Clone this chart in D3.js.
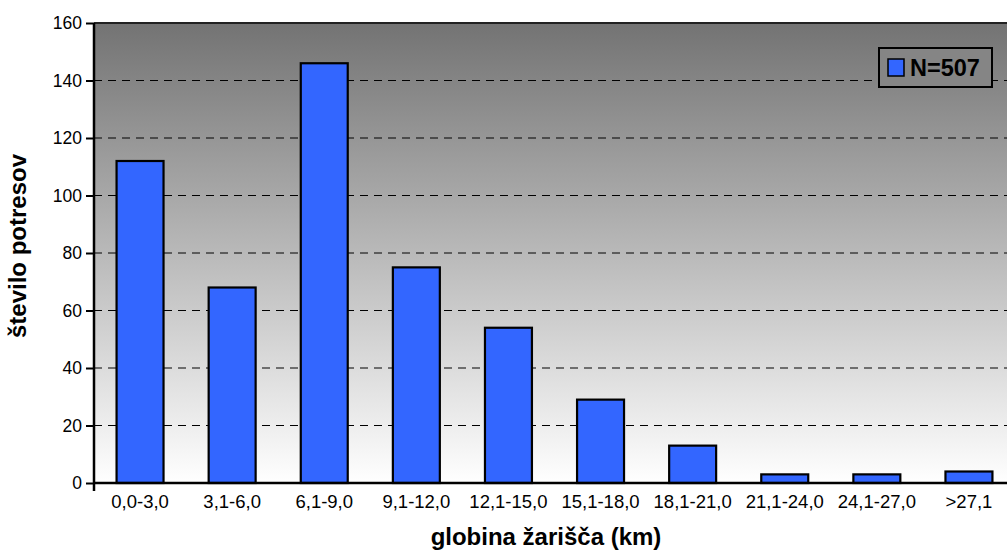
<!DOCTYPE html>
<html lang='sl'>
<head>
    <meta charset='UTF-8'>
    <title>globina žarišča</title>
    <style>
        body { margin: 0; background: #fff; }
        svg { display: block; font-family: Arial, 'Liberation Sans', sans-serif; }
    </style>
</head>
<body>
    <div id='anchor'></div>
    <script src='https://cdnjs.cloudflare.com/ajax/libs/d3/7.8.5/d3.min.js'></script>
    <script>
        const categories = ['0,0-3,0', '3,1-6,0', '6,1-9,0', '9,1-12,0', '12,1-15,0',
            '15,1-18,0', '18,1-21,0', '21,1-24,0', '24,1-27,0', '>27,1'];
        const counts = [112, 68, 146, 75, 54, 29, 13, 3, 3, 4];
        const yTicks = [0, 20, 40, 60, 80, 100, 120, 140, 160];
        const legendLabel = 'N=507';

        const width = 1007, height = 555;
        const margin = { top: 23, left: 94, bottom: 72 };
        const plotRight = 1015;

        const svg = d3.select('#anchor').append('svg')
            .attr('width', width)
            .attr('height', height);

        const x = d3.scaleBand()
            .domain(categories)
            .range([margin.left, plotRight])
            .paddingInner(0.49)
            .paddingOuter(0.245);

        const y = d3.scaleLinear()
            .domain([0, 160])
            .range([height - margin.bottom, margin.top]);

        // background gradient, in page units so the legend box can share it
        const grad = svg.append('defs').append('linearGradient')
            .attr('id', 'bg')
            .attr('gradientUnits', 'userSpaceOnUse')
            .attr('x1', 0).attr('y1', y(160)).attr('x2', 0).attr('y2', y(0));
        grad.append('stop').attr('offset', '0%').attr('stop-color', '#737373');
        grad.append('stop').attr('offset', '100%').attr('stop-color', '#ffffff');

        svg.append('rect')
            .attr('x', margin.left)
            .attr('y', y(160))
            .attr('width', plotRight - margin.left)
            .attr('height', y(0) - y(160))
            .attr('fill', 'url(#bg)');

        // dashed grid lines
        svg.append('g')
            .selectAll('line')
            .data(yTicks.filter(d => d > 0 && d < 160))
            .join('line')
            .attr('x1', margin.left)
            .attr('x2', plotRight)
            .attr('y1', d => y(d))
            .attr('y2', d => y(d))
            .attr('stroke', '#000')
            .attr('stroke-width', 1)
            .attr('stroke-dasharray', '8,6');

        // top border
        svg.append('line')
            .attr('x1', margin.left).attr('x2', plotRight)
            .attr('y1', y(160)).attr('y2', y(160))
            .attr('stroke', '#222')
            .attr('stroke-width', 2);

        // bars
        svg.append('g')
            .selectAll('rect')
            .data(counts)
            .join('rect')
            .attr('x', (d, i) => x(categories[i]))
            .attr('y', d => y(d))
            .attr('width', x.bandwidth())
            .attr('height', d => y(0) - y(d))
            .attr('fill', '#3366ff')
            .attr('stroke', '#000')
            .attr('stroke-width', 2.2);

        // y axis
        const yAxis = svg.append('g')
            .attr('transform', `translate(${margin.left},0)`)
            .call(d3.axisLeft(y).tickValues(yTicks).tickSize(8).tickPadding(4));
        yAxis.select('.domain').attr('stroke-width', 2.5).attr('d', `M0,${y(160)}V${y(0) + 8}`);
        yAxis.selectAll('.tick line').attr('stroke-width', 2);
        yAxis.selectAll('text')
            .attr('font-size', 17.5)
            .attr('font-family', 'Arial, Liberation Sans, sans-serif')
            .attr('fill', '#000');

        // x axis
        const xAxis = svg.append('g')
            .attr('transform', `translate(0,${y(0)})`)
            .call(d3.axisBottom(x).tickSize(0).tickPadding(12));
        xAxis.select('.domain')
            .attr('stroke-width', 2.5)
            .attr('d', `M${margin.left},0H${plotRight}`);
        xAxis.selectAll('text')
            .attr('font-size', 18.5)
            .attr('font-family', 'Arial, Liberation Sans, sans-serif')
            .attr('fill', '#000');

        // axis titles
        svg.append('text')
            .attr('x', 546)
            .attr('y', 545)
            .attr('text-anchor', 'middle')
            .attr('font-size', 24)
            .attr('font-weight', 'bold')
            .text('globina žarišča (km)');

        svg.append('text')
            .attr('transform', `translate(26,246) rotate(-90)`)
            .attr('text-anchor', 'middle')
            .attr('font-size', 24)
            .attr('font-weight', 'bold')
            .text('število potresov');

        // legend
        const legend = svg.append('g').attr('transform', 'translate(879,48)');
        legend.append('rect')
            .attr('width', 113).attr('height', 39)
            .attr('fill', '#858585')
            .attr('stroke', '#000')
            .attr('stroke-width', 2);
        legend.append('rect')
            .attr('x', 9).attr('y', 11)
            .attr('width', 16).attr('height', 17)
            .attr('fill', '#3366ff')
            .attr('stroke', '#000')
            .attr('stroke-width', 1.5);
        legend.append('text')
            .attr('x', 31).attr('y', 28)
            .attr('font-size', 23.5)
            .attr('font-weight', 'bold')
            .text(legendLabel);
    </script>
</body>
</html>
